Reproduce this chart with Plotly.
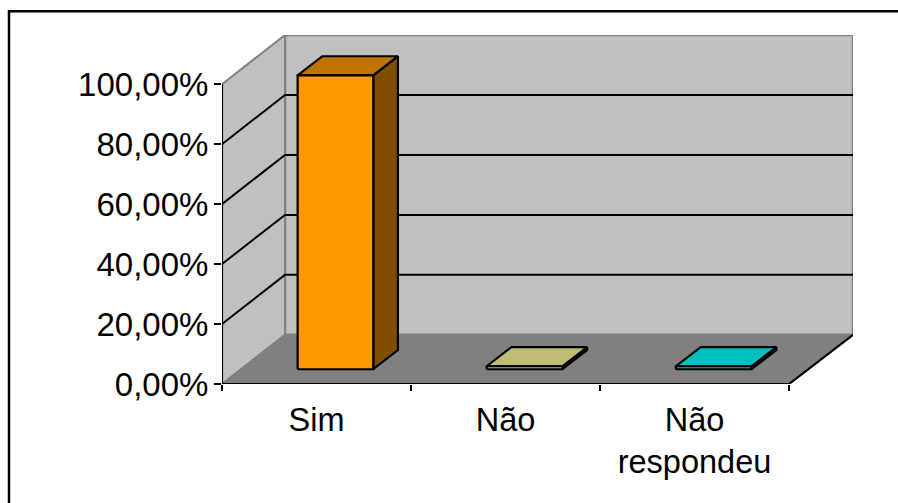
import plotly.graph_objects as go

# Survey answers, in percent
categories = ["Sim", "Não", "Não<br>respondeu"]
values = [98.0, 1.0, 1.0]
bar_colors = ["#FF9900", "#BDBD75", "#00C0C0"]
top_colors = ["#BF7300", "#8E8E58", "#009090"]
side_colors = ["#7F4C00", "#5E5E3A", "#006060"]
y_ticks = [0, 20, 40, 60, 80, 100]
y_labels = ["0,00%", "20,00%", "40,00%", "60,00%", "80,00%", "100,00%"]

WIDTH, HEIGHT = 898, 503
LEFT, RIGHT, TOP, BOTTOM = 222.0, 853.0, 34.7, 384.5
PX_PER_CAT = 189.0
PX_PER_PCT = 3.005
DEPTH_X = 63.0 / PX_PER_CAT          # depth shift in category units
DEPTH_Y = 49.3 / PX_PER_PCT          # depth shift in percent units
DEPTH_SCALE = 0.0018                 # slight widening towards the back wall
BAR_W = 0.4
Z_FRONT, Z_BACK = 0.3, 0.69
N = len(categories)
XFONT = dict(family="Liberation Sans, Arial, sans-serif", size=32.5, color="#000000")
YFONT = dict(family="Liberation Sans, Arial, sans-serif", size=33, color="#000000")
WALL, FLOOR, EDGE = "#C0C0C0", "#808080", "#808080"


def project(x, y, z):
    """Oblique projection of a (category, percent, depth) point onto the axes."""
    return x * (1 + z * DEPTH_SCALE) + z * DEPTH_X, y + z * DEPTH_Y


def poly(points, fill=None, line="#000000", width=2.2):
    xs, ys = zip(*[project(*p) for p in points])
    return go.Scatter(
        x=xs, y=ys, mode="lines", fill="toself" if fill else "none",
        fillcolor=fill, line=dict(color=line, width=width, simplify=False),
        hoverinfo="skip", showlegend=False, cliponaxis=False,
    )


fig = go.Figure()

# Back wall, side wall and floor
ymax = y_ticks[-1]
fig.add_trace(poly([(0, 0, 1), (N, 0, 1), (N, ymax, 1), (0, ymax, 1), (0, 0, 1)], WALL, EDGE, 2.5))
fig.add_trace(poly([(0, 0, 0), (0, 0, 1), (0, ymax, 1), (0, ymax, 0), (0, 0, 0)], WALL, EDGE, 2.0))
fig.add_trace(poly([(0, 0, 0), (N, 0, 0), (N, 0, 1), (0, 0, 1), (0, 0, 0)], FLOOR, EDGE, 1.5))

# Gridlines run along the side wall and across the back wall
for t in y_ticks[1:-1]:
    fig.add_trace(poly([(0, t, 0), (0, t, 1), (N, t, 1)], None, "#000000", 2.0))

# Floor's front and right edges plus the value axis
fig.add_trace(poly([(0, 0, 0), (N, 0, 0), (N, 0, 1)], None, "#000000", 2.2))
fig.add_trace(poly([(0, 0, 0), (0, ymax, 0)], None, "#000000", 2.2))

# Bars: front face, top face and right side
for i, v in enumerate(values):
    x0 = i + (1 - BAR_W) / 2
    x1 = x0 + BAR_W
    zf, zb = Z_FRONT, Z_BACK
    fig.add_trace(poly([(x1, 0, zf), (x1, 0, zb), (x1, v, zb), (x1, v, zf), (x1, 0, zf)], side_colors[i]))
    fig.add_trace(poly([(x0, v, zf), (x1, v, zf), (x1, v, zb), (x0, v, zb), (x0, v, zf)],
                       top_colors[i] if v > 50 else bar_colors[i]))
    fig.add_trace(poly([(x0, 0, zf), (x1, 0, zf), (x1, v, zf), (x0, v, zf), (x0, 0, zf)], bar_colors[i]))

plot_w = RIGHT - LEFT
plot_h = BOTTOM - TOP


def paper_x(px):
    return (px - LEFT) / plot_w


def paper_y(py):
    return (BOTTOM - py) / plot_h


# Chart frame: only the top and left edges fall inside the page
frame = (
    f"M {paper_x(9)} {paper_y(HEIGHT + 5)} "
    f"L {paper_x(9)} {paper_y(11)} "
    f"L {paper_x(WIDTH + 5)} {paper_y(11)}"
)

fig.update_layout(
    width=WIDTH, height=HEIGHT, autosize=False,
    margin=dict(l=LEFT, r=WIDTH - RIGHT, t=TOP, b=HEIGHT - BOTTOM, pad=0),
    paper_bgcolor="#FFFFFF", plot_bgcolor="#FFFFFF",
    font=XFONT, showlegend=False,
    xaxis=dict(
        range=[0, plot_w / PX_PER_CAT], showgrid=False, zeroline=False, showline=False,
        tickmode="array", tickvals=[i + 0.5 for i in range(N)], ticktext=categories,
        ticks="", tickangle=0, tickfont=XFONT, ticklabelstandoff=13,
        minor=dict(tickmode="array", tickvals=list(range(N + 1)), ticks="outside",
                   ticklen=6, tickwidth=2, tickcolor="#000000", showgrid=False),
    ),
    yaxis=dict(
        range=[0, plot_h / PX_PER_PCT], showgrid=False, zeroline=False, showline=False,
        tickmode="array", tickvals=y_ticks, ticktext=y_labels, ticklabelstandoff=-1,
        ticks="outside", ticklen=7, tickwidth=2, tickcolor="#000000", tickfont=YFONT,
    ),
    shapes=[dict(type="path", xref="paper", yref="paper", path=frame,
                 line=dict(color="#000000", width=2.5), layer="above")],
)

fig.write_html("out.html", config=dict(displayModeBar=False))
